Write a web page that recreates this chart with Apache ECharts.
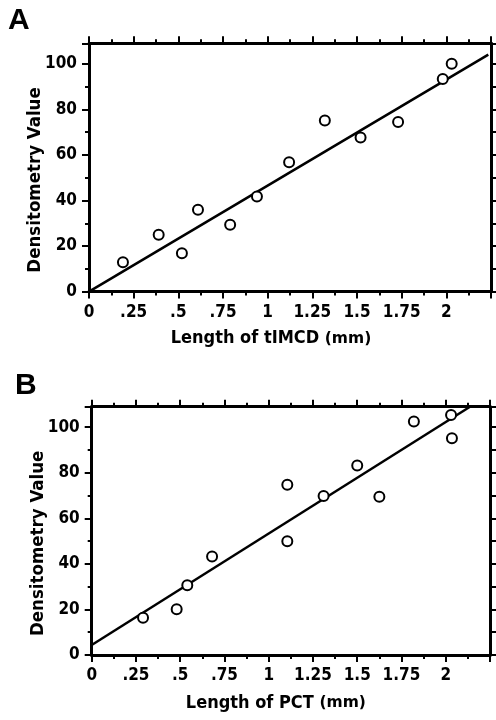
<!DOCTYPE html>
<html>
<head>
<meta charset="utf-8">
<script src="https://cdn.jsdelivr.net/npm/echarts@6/dist/echarts.min.js"></script>
<style>
  html, body { margin: 0; padding: 0; background: #fff; }
  #main { width: 496px; height: 720px; }
</style>
</head>
<body>
<div id="main"></div>
<script>
// panel A: tIMCD
var tIMCD_len = [0.19, 0.39, 0.52, 0.61, 0.79, 0.94, 1.12, 1.32, 1.52, 1.73, 1.98, 2.03];
var tIMCD_dens = [12.9, 25.0, 16.8, 35.9, 29.3, 41.7, 56.8, 75.1, 67.6, 74.5, 93.3, 100];
var tIMCD_fit = [[0, 0], [2.235, 104]];
// panel B: PCT
var PCT_len = [0.29, 0.48, 0.54, 0.68, 1.105, 1.105, 1.31, 1.50, 1.625, 1.82, 2.03, 2.035];
var PCT_dens = [16.4, 20.1, 30.6, 43.2, 74.7, 49.9, 69.8, 83.2, 69.5, 102.5, 105.4, 95.2];
var PCT_fit = [[0, 4.4], [2.137, 109]];
// tick labels
var xTickText = ['0', '.25', '.5', '.75', '1', '1.25', '1.5', '1.75', '2'];
var yTickText = ['0', '20', '40', '60', '80', '100'];

var narrow = "'Liberation Sans Narrow', 'DejaVu Sans Condensed', sans-serif";

function pairs(xs, ys) {
  return xs.map(function (x, i) { return [x, ys[i]]; });
}

function pickLabel(list, step) {
  return function (v) {
    var k = Math.round(v / step);
    if (Math.abs(v / step - k) > 1e-6) return '';
    return list[k] || '';
  };
}

function xAxes(g, label, shift, gap) {
  var base = { gridIndex: g, type: 'value', min: 0, max: 2.25, splitLine: { show: false } };
  return [
    Object.assign({}, base, {
      position: 'bottom', interval: 0.25,
      axisLine: { show: true, onZero: false, lineStyle: { color: '#000', width: 3 } },
      axisTick: { show: true, length: 7, lineStyle: { color: '#000', width: 2 } },
      axisLabel: { margin: 12, color: '#000', fontFamily: narrow, fontWeight: 'bold', fontSize: 17,
        formatter: pickLabel(xTickText, 0.25) },
      name: '{a|' + label + ' }{b|(mm)}', nameLocation: 'middle', nameGap: gap,
      nameMoveOverlap: false,
      nameTextStyle: { padding: [0, shift * 2, 0, 0], rich: {
        a: { fontFamily: narrow, fontWeight: 'bold', fontSize: 18, color: '#000' },
        b: { fontFamily: "'DejaVu Sans', sans-serif", fontWeight: 'bold', fontSize: 15.5, color: '#000' }
      } }
    }),
    Object.assign({}, base, {
      position: 'bottom', interval: 0.125,
      axisLine: { show: false, onZero: false },
      axisTick: { show: true, length: 4, lineStyle: { color: '#000', width: 2 } },
      axisLabel: { show: false }
    }),
    Object.assign({}, base, {
      position: 'top', interval: 0.25,
      axisLine: { show: true, onZero: false, lineStyle: { color: '#000', width: 3 } },
      axisTick: { show: true, length: 7, lineStyle: { color: '#000', width: 2 } },
      axisLabel: { show: false }
    }),
    Object.assign({}, base, {
      position: 'top', interval: 0.125,
      axisLine: { show: false, onZero: false },
      axisTick: { show: true, length: 4, lineStyle: { color: '#000', width: 2 } },
      axisLabel: { show: false }
    })
  ];
}

function yAxes(g) {
  var base = { gridIndex: g, type: 'value', min: 0, max: 109, splitLine: { show: false } };
  return [
    Object.assign({}, base, {
      position: 'left', interval: 20,
      axisLine: { show: true, onZero: false, lineStyle: { color: '#000', width: 3 } },
      axisTick: { show: true, length: 7, lineStyle: { color: '#000', width: 2 } },
      axisLabel: { margin: 12, color: '#000', fontFamily: narrow, fontWeight: 'bold', fontSize: 17,
        formatter: pickLabel(yTickText, 20) },
      name: 'Densitometry Value', nameLocation: 'middle', nameGap: 44,
      nameMoveOverlap: false,
      nameTextStyle: { color: '#000', fontFamily: narrow, fontWeight: 'bold', fontSize: 18.5,
        padding: [0, 25, 0, 0] }
    }),
    Object.assign({}, base, {
      position: 'left', interval: 10,
      axisLine: { show: false, onZero: false },
      axisTick: { show: true, length: 4, lineStyle: { color: '#000', width: 2 } },
      axisLabel: { show: false }
    }),
    Object.assign({}, base, {
      position: 'right', interval: 10,
      axisLine: { show: true, onZero: false, lineStyle: { color: '#000', width: 3 } },
      axisTick: { show: true, length: 7, lineStyle: { color: '#000', width: 2 } },
      axisLabel: { show: false }
    })
  ];
}

function panelSeries(g, xs, ys, fit) {
  return [
    {
      type: 'line', xAxisIndex: g * 4, yAxisIndex: g * 3, data: fit,
      showSymbol: false, silent: true, z: 2,
      lineStyle: { color: '#000', width: 2.5 }
    },
    {
      type: 'scatter', xAxisIndex: g * 4, yAxisIndex: g * 3, data: pairs(xs, ys),
      symbol: 'circle', symbolSize: 10, z: 3,
      itemStyle: { color: '#fff', borderColor: '#000', borderWidth: 2, opacity: 1 }
    }
  ];
}

var letterFont = { fontFamily: "'Liberation Sans', Arial, sans-serif", fontWeight: 'bold', fontSize: 30, color: '#000' };

var chart = echarts.init(document.getElementById('main'), null, { renderer: 'canvas' });
chart.setOption({
  animation: false,
  backgroundColor: '#fff',
  title: [
    { text: 'A', left: 3, top: 1, textStyle: letterFont },
    { text: 'B', left: 10, top: 366, textStyle: letterFont }
  ],
  grid: [
    { left: 89, top: 43.3, width: 402, height: 248.3, outerBoundsMode: 'none' },
    { left: 91.7, top: 406.7, width: 398.3, height: 248.3, outerBoundsMode: 'none' }
  ],
  xAxis: xAxes(0, 'Length of tIMCD', 19, 38).concat(xAxes(1, 'Length of PCT', 15, 39)),
  yAxis: yAxes(0).concat(yAxes(1)),
  series: panelSeries(0, tIMCD_len, tIMCD_dens, tIMCD_fit)
    .concat(panelSeries(1, PCT_len, PCT_dens, PCT_fit))
});
</script>
</body>
</html>
